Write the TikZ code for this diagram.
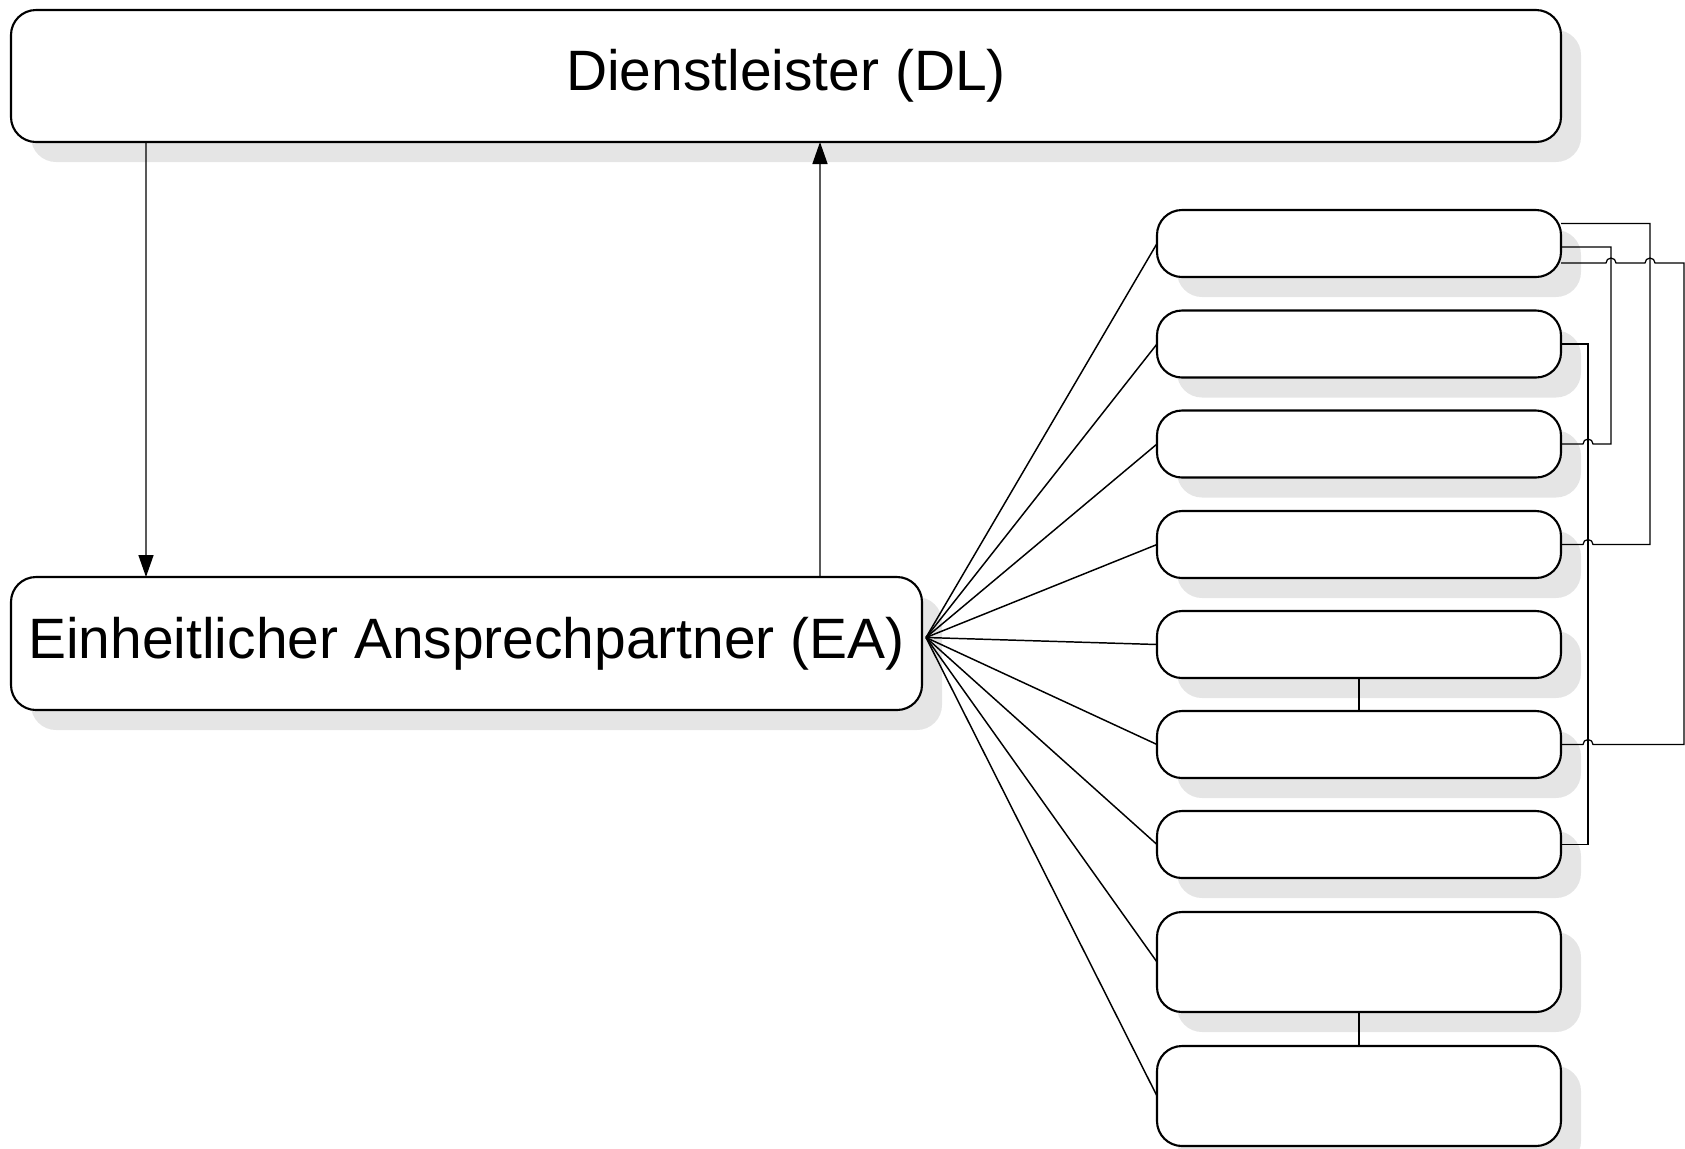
\documentclass[tikz,border=0pt]{standalone}
\usepackage{fontspec}
\setmainfont{Liberation Sans}
\usetikzlibrary{arrows.meta,shadows}

\begin{document}
\begin{tikzpicture}[
  every node/.style={inner sep=0pt, outer sep=0pt},
  box/.style={draw, line width=0.6pt, fill=white, rounded corners=0.25cm,
    drop shadow={shadow xshift=0.2cm, shadow yshift=-0.2cm, fill=black!10, opacity=1}},
  big/.style={box, font=\fontsize{16.2}{19}\selectfont},
  small/.style={box, minimum width=4.04cm, minimum height=0.67cm},
  tall/.style={box, minimum width=4.04cm, minimum height=1.0cm},
  fanline/.style={line width=0.42pt},
  link/.style={line width=0.35pt},
  arrow/.style={line width=0.42pt, -{Triangle[length=2.2mm, width=1.5mm]}}]
\useasboundingbox (0,0) rectangle (16.85,-11.48);

\node[big, minimum width=15.5cm, minimum height=1.32cm] (DL) at (7.86,-0.76) {\raisebox{-0.3mm}{Dienstleister (DL)}};
\node[big, minimum width=9.11cm, minimum height=1.33cm] (EA) at (4.665,-6.435) {\raisebox{-0.3mm}{Einheitlicher Ansprechpartner (EA)}};

\node[small] (B1) at (13.59,-2.435) {};
\node[small] (B2) at (13.59,-3.44) {};
\node[small] (B3) at (13.59,-4.44) {};
\node[small] (B4) at (13.59,-5.445) {};
\node[small] (B5) at (13.59,-6.445) {};
\node[small] (B6) at (13.59,-7.445) {};
\node[small] (B7) at (13.59,-8.445) {};
\node[tall] (B8) at (13.59,-9.62) {};
\node[tall] (B9) at (13.59,-10.96) {};

\draw[arrow] ([xshift=1.35cm]DL.south west) -- ([xshift=1.35cm]EA.north west);
\draw[arrow] ([xshift=8.09cm]EA.north west) -- ([xshift=8.09cm]DL.south west);

\coordinate (fan) at ([shift={(0.04,0.06)}]EA.east);
\foreach \b in {B1,B2,B3,B4,B5,B6,B7,B8,B9}
  \draw[fanline] (fan) -- (\b.west);

\draw[link] (B5) -- (B6);
\draw[link] (B8) -- (B9);

\coordinate (ch1) at (15.88,0);
\coordinate (ch2) at (16.11,0);
\coordinate (ch3) at (16.50,0);
\coordinate (ch4) at (16.84,0);
\coordinate (a0) at ([yshift=2mm]B1.east);
\coordinate (b0) at ([yshift=-0.35mm]B1.east);
\coordinate (d0) at ([yshift=-1.95mm]B1.east);

\draw[link] (a0) -| (ch3 |- B4.east) -- ([xshift=0.5mm]ch1 |- B4.east)
  arc[start angle=0, end angle=180, radius=0.5mm] -- (B4.east);
\draw[link] (b0) -| (ch2 |- B3.east) -- ([xshift=0.5mm]ch1 |- B3.east)
  arc[start angle=0, end angle=180, radius=0.5mm] -- (B3.east);
\draw[link] (d0) -- ([xshift=-0.5mm]ch2 |- d0)
  arc[start angle=180, end angle=0, radius=0.5mm] -- ([xshift=-0.5mm]ch3 |- d0)
  arc[start angle=180, end angle=0, radius=0.5mm] -| (ch4 |- B6.east)
  -- ([xshift=0.5mm]ch1 |- B6.east)
  arc[start angle=0, end angle=180, radius=0.5mm] -- (B6.east);
\draw[link] (B2.east) -| (ch1 |- B7.east) -- (B7.east);
\end{tikzpicture}
\end{document}
